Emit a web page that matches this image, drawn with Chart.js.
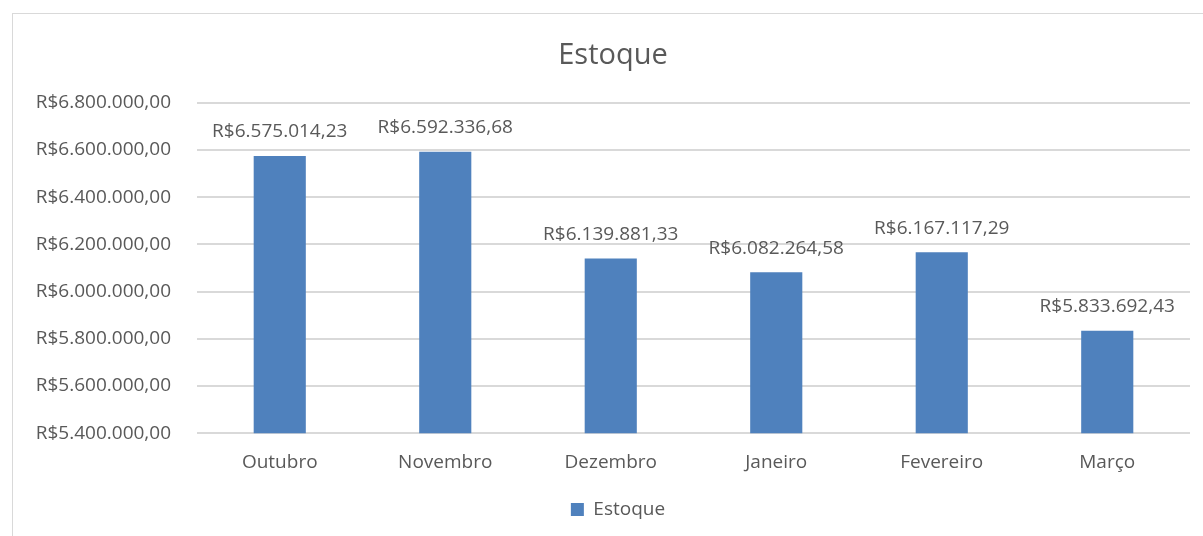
<!DOCTYPE html>
<html>
<head>
<meta charset="utf-8">
<script src="https://cdn.jsdelivr.net/npm/chart.js@4"></script>
<style>
  html, body { margin: 0; padding: 0; background: #fff; overflow: hidden; }
  #wrap { position: relative; width: 1203px; height: 536px; }
  #frame { position: absolute; left: 12px; top: 13px; width: 1300px; height: 600px;
           border: 1px solid #d9d9d9; pointer-events: none; }
</style>
</head>
<body>
<div id="wrap">
  <canvas id="estoque-chart" width="1203" height="536"></canvas>
  <div id="frame"></div>
</div>
<script>
const meses = ["Outubro", "Novembro", "Dezembro", "Janeiro", "Fevereiro", "Março"];
const estoque = [6575014.23, 6592336.68, 6139881.33, 6082264.58, 6167117.29, 5833692.43];
const yMin = 5400000, yMax = 6800000, yStep = 200000;

// R$ no formato brasileiro: R$6.575.014,23
function reais(v) {
    const parts = Math.abs(v).toFixed(2).split(".");
    const inteiro = parts[0].replace(/\B(?=(\d{3})+(?!\d))/g, ".");
    return "R$" + inteiro + "," + parts[1];
}

const cinza = "#595959";
const fonte = "'Open Sans', 'Liberation Sans', sans-serif";

const valueLabels = {
    id: "valueLabels",
    afterDatasetsDraw(chart) {
        const ctx = chart.ctx;
        const meta = chart.getDatasetMeta(0);
        ctx.save();
        ctx.font = "19px " + fonte;
        ctx.fillStyle = cinza;
        ctx.textAlign = "center";
        ctx.textBaseline = "middle";
        meta.data.forEach((bar, i) => {
            ctx.fillText(reais(estoque[i]), bar.x, bar.y - 24);
        });
        ctx.restore();
    }
};

// title and legend sit a bit right of the canvas centre in the original
const boxShift = {
    id: "boxShift",
    afterLayout(chart) {
        if (chart.legend) chart.legend.left += 46;
        if (chart.titleBlock) chart.titleBlock.left += 36;
    }
};

new Chart("estoque-chart", {
    type: "bar",
    data: {
        labels: meses,
        datasets: [{
            label: "Estoque",
            data: estoque,
            backgroundColor: "#4f81bd",
            borderWidth: 0,
            categoryPercentage: 1,
            barPercentage: 0.315
        }]
    },
    options: {
        responsive: false,
        animation: false,
        layout: { padding: { left: 0, right: 13, top: 0, bottom: 7 } },
        plugins: {
            title: {
                display: true,
                text: "Estoque",
                color: cinza,
                font: { family: fonte, size: 29, weight: "normal" },
                padding: { top: 38, bottom: 30 }
            },
            legend: {
                display: true,
                position: "bottom",
                labels: {
                    color: cinza,
                    font: { family: fonte, size: 19 },
                    boxWidth: 13,
                    boxHeight: 13,
                    padding: 12
                }
            },
            tooltip: { enabled: false }
        },
        scales: {
            x: {
                afterFit(scale) { scale.height += 4; },
                grid: { display: false },
                border: { display: false },
                ticks: { color: cinza, font: { family: fonte, size: 19 }, padding: 10 }
            },
            y: {
                min: yMin,
                max: yMax,
                afterFit(scale) { scale.width = 197; },
                grid: { color: "#d9d9d9", lineWidth: 2, drawTicks: false },
                border: { display: false },
                ticks: {
                    stepSize: yStep,
                    color: cinza,
                    font: { family: fonte, size: 19 },
                    padding: 26,
                    callback: v => reais(v)
                }
            }
        }
    },
    plugins: [valueLabels, boxShift]
});
</script>
</body>
</html>
